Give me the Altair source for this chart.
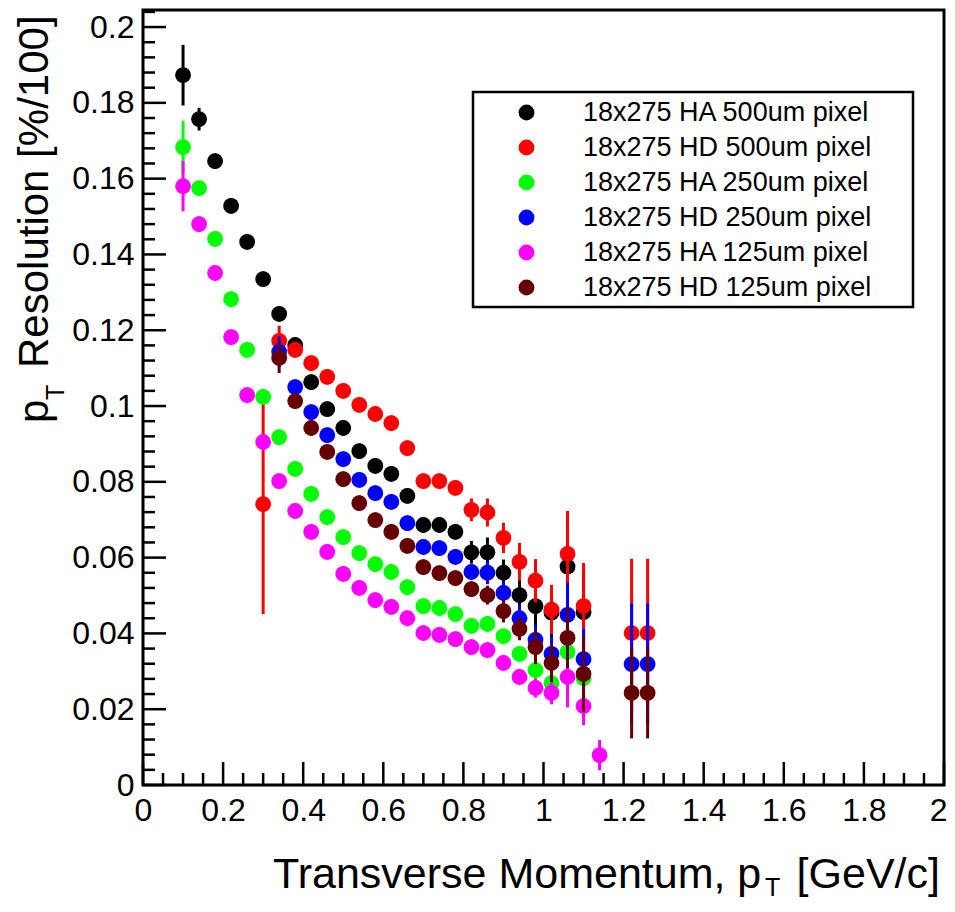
import altair as alt
import pandas as pd

FONT = "Liberation Sans"

SERIES = ["18x275 HA 500um pixel", "18x275 HD 500um pixel", "18x275 HA 250um pixel",
          "18x275 HD 250um pixel", "18x275 HA 125um pixel", "18x275 HD 125um pixel"]
COLORS = ["#000000", "#ff0000", "#00ff00", "#0000ff", "#ff00ff", "#660000"]

# --- HA 500um (black)
ha500_x = [0.10, 0.14, 0.18, 0.22, 0.26, 0.30, 0.34, 0.38, 0.42, 0.46, 0.50, 0.54, 0.58,
           0.62, 0.66, 0.70, 0.74, 0.78, 0.82, 0.86, 0.90, 0.94, 0.98, 1.02, 1.06, 1.10]
ha500_y = [0.1873, 0.1757, 0.1646, 0.1528, 0.1433, 0.1335, 0.1243, 0.1161, 0.1063, 0.0992,
           0.0942, 0.0881, 0.0842, 0.0821, 0.0763, 0.0686, 0.0686, 0.0668, 0.0614, 0.0614,
           0.0560, 0.0501, 0.0472, 0.0455, 0.0576, 0.0456]
ha500_e = [0.0080, 0.0030, 0.0020, 0.0020, 0.0020, 0.0020, 0.0020, 0.0020, 0.0020, 0.0020,
           0.0020, 0.0020, 0.0020, 0.0020, 0.0020, 0.0020, 0.0020, 0.0020, 0.0030, 0.0039,
           0.0035, 0.0040, 0.0055, 0.0070, 0.0110, 0.0110]

# --- HD 500um (red)
hd500_x = [0.30, 0.34, 0.38, 0.42, 0.46, 0.50, 0.54, 0.58, 0.62, 0.66, 0.70, 0.74, 0.78,
           0.82, 0.86, 0.90, 0.94, 0.98, 1.02, 1.06, 1.10, 1.22, 1.26]
hd500_y = [0.0741, 0.1172, 0.1148, 0.1113, 0.1077, 0.1040, 0.1003, 0.0979, 0.0955, 0.0889,
           0.0802, 0.0802, 0.0784, 0.0726, 0.0719, 0.0652, 0.0589, 0.0539, 0.0463, 0.0610,
           0.0472, 0.0401, 0.0401]
hd500_e = [0.0290, 0.0040, 0.0020, 0.0020, 0.0020, 0.0020, 0.0020, 0.0020, 0.0020, 0.0020,
           0.0020, 0.0020, 0.0020, 0.0030, 0.0037, 0.0040, 0.0050, 0.0057, 0.0065, 0.0113,
           0.0114, 0.0196, 0.0196]

# --- HA 250um (green)
ha250_x = [0.10, 0.14, 0.18, 0.22, 0.26, 0.30, 0.34, 0.38, 0.42, 0.46, 0.50, 0.54, 0.58,
           0.62, 0.66, 0.70, 0.74, 0.78, 0.82, 0.86, 0.90, 0.94, 0.98, 1.02, 1.06, 1.10]
ha250_y = [0.1683, 0.1575, 0.1441, 0.1282, 0.1148, 0.1024, 0.0918, 0.0834, 0.0768, 0.0707,
           0.0654, 0.0612, 0.0583, 0.0562, 0.0522, 0.0472, 0.0467, 0.0451, 0.0420, 0.0425,
           0.0393, 0.0346, 0.0303, 0.0269, 0.0351, 0.0282]
ha250_e = [0.0070, 0.0020, 0.0020, 0.0020, 0.0020, 0.0020, 0.0020, 0.0020, 0.0020, 0.0020,
           0.0020, 0.0020, 0.0020, 0.0020, 0.0020, 0.0020, 0.0020, 0.0020, 0.0020, 0.0020,
           0.0020, 0.0020, 0.0025, 0.0030, 0.0060, 0.0060]

# --- HD 250um (blue)
hd250_x = [0.34, 0.38, 0.42, 0.46, 0.50, 0.54, 0.58, 0.62, 0.66, 0.70, 0.74, 0.78, 0.82,
           0.86, 0.90, 0.94, 0.98, 1.02, 1.06, 1.10, 1.22, 1.26]
hd250_y = [0.1143, 0.1050, 0.0984, 0.0923, 0.0860, 0.0805, 0.0770, 0.0747, 0.0691, 0.0628,
           0.0625, 0.0602, 0.0562, 0.0560, 0.0507, 0.0440, 0.0383, 0.0346, 0.0449, 0.0332,
           0.0319, 0.0319]
hd250_e = [0.0040, 0.0020, 0.0020, 0.0020, 0.0020, 0.0020, 0.0020, 0.0020, 0.0020, 0.0020,
           0.0020, 0.0020, 0.0020, 0.0030, 0.0030, 0.0035, 0.0040, 0.0045, 0.0085, 0.0080,
           0.0160, 0.0160]

# --- HA 125um (magenta)
ha125_x = [0.10, 0.14, 0.18, 0.22, 0.26, 0.30, 0.34, 0.38, 0.42, 0.46, 0.50, 0.54, 0.58,
           0.62, 0.66, 0.70, 0.74, 0.78, 0.82, 0.86, 0.90, 0.94, 0.98, 1.02, 1.06, 1.10, 1.14]
ha125_y = [0.1580, 0.1480, 0.1351, 0.1182, 0.1029, 0.0905, 0.0802, 0.0723, 0.0668, 0.0615,
           0.0557, 0.0520, 0.0488, 0.0470, 0.0440, 0.0401, 0.0396, 0.0385, 0.0364, 0.0356,
           0.0322, 0.0285, 0.0256, 0.0243, 0.0285, 0.0208, 0.0079]
ha125_e = [0.0066, 0.0020, 0.0020, 0.0020, 0.0020, 0.0020, 0.0020, 0.0020, 0.0020, 0.0020,
           0.0020, 0.0020, 0.0020, 0.0020, 0.0020, 0.0020, 0.0020, 0.0020, 0.0020, 0.0020,
           0.0020, 0.0020, 0.0025, 0.0030, 0.0080, 0.0050, 0.0040]

# --- HD 125um (dark red)
hd125_x = [0.34, 0.38, 0.42, 0.46, 0.50, 0.54, 0.58, 0.62, 0.66, 0.70, 0.74, 0.78, 0.82,
           0.86, 0.90, 0.94, 0.98, 1.02, 1.06, 1.10, 1.22, 1.26]
hd125_y = [0.1127, 0.1013, 0.0942, 0.0879, 0.0807, 0.0744, 0.0699, 0.0668, 0.0631, 0.0575,
           0.0559, 0.0546, 0.0517, 0.0501, 0.0459, 0.0412, 0.0364, 0.0322, 0.0388, 0.0293,
           0.0243, 0.0243]
hd125_e = [0.0040, 0.0020, 0.0020, 0.0020, 0.0020, 0.0020, 0.0020, 0.0020, 0.0020, 0.0020,
           0.0020, 0.0020, 0.0020, 0.0025, 0.0030, 0.0030, 0.0045, 0.0050, 0.0080, 0.0100,
           0.0120, 0.0120]

X_LABELS = [0, 0.2, 0.4, 0.6, 0.8, 1, 1.2, 1.4, 1.6, 1.8, 2]
Y_LABELS = [0, 0.02, 0.04, 0.06, 0.08, 0.1, 0.12, 0.14, 0.16, 0.18, 0.2]
X_MINOR = [round(i * 0.05, 3) for i in range(41) if i % 4 != 0]
Y_MINOR = [round(i * 0.004, 4) for i in range(52) if i % 5 != 0]

W, H = 801, 775

rows = []
all_x = [ha500_x, hd500_x, ha250_x, hd250_x, ha125_x, hd125_x]
all_y = [ha500_y, hd500_y, ha250_y, hd250_y, ha125_y, hd125_y]
all_e = [ha500_e, hd500_e, ha250_e, hd250_e, ha125_e, hd125_e]
for name, xs, ys, es in zip(SERIES, all_x, all_y, all_e):
    for x, y, e in zip(xs, ys, es):
        rows.append({"series": name, "x": x, "y": y, "lo": y - e, "hi": y + e})
df = pd.DataFrame(rows)

xscale = alt.Scale(domain=[0, 2], nice=False, zero=False)
yscale = alt.Scale(domain=[0, 0.2045], nice=False, zero=False)

axis_common = dict(ticks=False, tickSize=0, domain=False, grid=False, labelFontSize=32,
                   labelFont=FONT, labelColor="black", labelFlush=False,
                   labelOverlap=False, title=None, format="~g")
x_axis = alt.Axis(values=X_LABELS, labelPadding=10,
                  labelAlign={"condition": {"test": "datum.value >= 2", "value": "right"},
                              "value": "center"},
                  labelOffset={"condition": {"test": "datum.value >= 2", "value": 3},
                               "value": 0},
                  **axis_common)
y_axis = alt.Axis(values=Y_LABELS, labelPadding=9, **axis_common)

legend = alt.Legend(orient="none", legendX=330, legendY=82, title=None,
                    padding=7, symbolSize=250, symbolType="circle", symbolStrokeWidth=0,
                    symbolOffset=33, labelOffset=43, labelFontSize=27, labelFont=FONT,
                    labelColor="black", labelLimit=0, rowPadding=7)
cscale = alt.Scale(domain=SERIES, range=COLORS)
color_enc = alt.Color("series:N", scale=cscale, legend=legend)

layers = []

for i, name in enumerate(SERIES):
    base = alt.Chart(df).transform_filter(alt.datum.series == name)
    rule = base.mark_rule(strokeWidth=3).encode(
        x=alt.X("x:Q", scale=xscale, axis=x_axis),
        y=alt.Y("lo:Q", scale=yscale, axis=y_axis),
        y2="hi:Q",
        color=color_enc)
    pts = base.mark_circle(size=250, opacity=1).encode(
        x=alt.X("x:Q", scale=xscale, axis=x_axis),
        y=alt.Y("y:Q", scale=yscale, axis=y_axis),
        color=color_enc)
    layers += [rule, pts]

# ticks (inward, ROOT style)
layers.append(alt.Chart(pd.DataFrame({"x": X_LABELS})).mark_rule(color="black", strokeWidth=2.5).encode(
    x=alt.X("x:Q", scale=xscale, axis=x_axis), y=alt.value(H), y2=alt.value(H - 23)))
layers.append(alt.Chart(pd.DataFrame({"x": X_MINOR})).mark_rule(color="black", strokeWidth=2.5).encode(
    x=alt.X("x:Q", scale=xscale, axis=x_axis), y=alt.value(H), y2=alt.value(H - 12)))
layers.append(alt.Chart(pd.DataFrame({"y": Y_LABELS})).mark_rule(color="black", strokeWidth=2.5).encode(
    y=alt.Y("y:Q", scale=yscale, axis=y_axis), x=alt.value(0), x2=alt.value(23)))
layers.append(alt.Chart(pd.DataFrame({"y": Y_MINOR})).mark_rule(color="black", strokeWidth=2.5).encode(
    y=alt.Y("y:Q", scale=yscale, axis=y_axis), x=alt.value(0), x2=alt.value(12)))

one = pd.DataFrame({"a": [0]})

# legend frame (decorative box behind the legend entries)
layers.append(alt.Chart(one).mark_rect(fill="white", stroke="black", strokeWidth=2.5).encode(
    x=alt.value(330), x2=alt.value(770), y=alt.value(82), y2=alt.value(297)))

def txt(s, x, y, size=42, angle=0, align="left"):
    return alt.Chart(one).mark_text(text=s, font=FONT, fontSize=size, angle=angle, align=align,
                                    baseline="alphabetic", color="black").encode(
        x=alt.value(x), y=alt.value(y))

# x title
layers.append(txt("Transverse Momentum, p", 130, 878, size=43))
layers.append(txt("T", 622, 886, size=25))
layers.append(txt("[GeV/c]", 797, 878, size=43, align="right"))
# y title (rotated)
layers.append(txt("p", -95, 413, angle=270))
layers.append(txt("T", -79, 390, size=25, angle=270))
layers.append(txt("Resolution [%/100]", -95, 358, angle=270))

chart = alt.layer(*layers).properties(
    width=W, height=H,
    autosize=alt.AutoSizeParams(type="none"),
    padding={"left": 135, "top": 2, "right": 3, "bottom": 119},
).configure_view(stroke="black", strokeWidth=3)

chart.save("out.html", embed_options={"renderer": "svg", "actions": False})
